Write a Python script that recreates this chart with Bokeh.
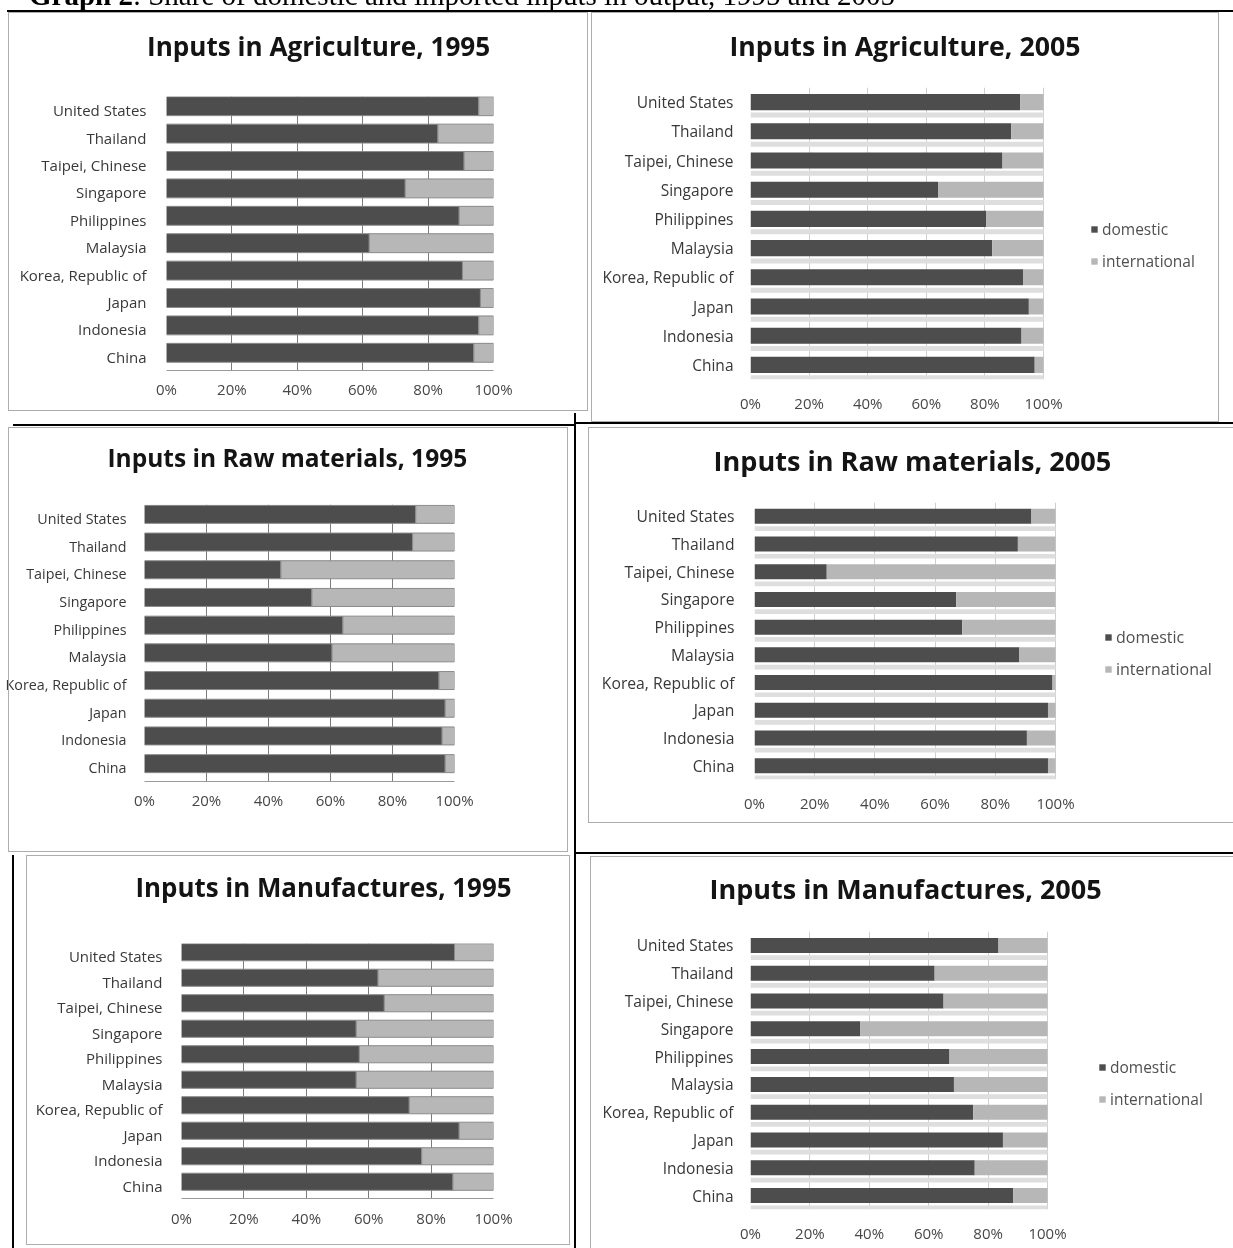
from bokeh.plotting import figure
from bokeh.models import (ColumnDataSource, FactorRange, Range1d, FixedTicker, Title,
                          Legend, LegendItem, Div)
from bokeh.transform import dodge
from bokeh.embed import file_html
from bokeh.resources import INLINE

# ---------------- data ----------------
countries = ["United States", "Thailand", "Taipei, Chinese", "Singapore", "Philippines",
             "Malaysia", "Korea, Republic of", "Japan", "Indonesia", "China"]
series = ["domestic", "international"]
x_ticks = [0, 20, 40, 60, 80, 100]
x_tick_labels = ["0%", "20%", "40%", "60%", "80%", "100%"]

agri_1995_domestic = [95.5, 83, 91, 73, 89.5, 62, 90.5, 96, 95.5, 94]
agri_1995_international = [4.5, 17, 9, 27, 10.5, 38, 9.5, 4, 4.5, 6]
agri_2005_domestic = [92, 89, 86, 64, 80.5, 82.5, 93, 95, 92.5, 97]
agri_2005_international = [8, 11, 14, 36, 19.5, 17.5, 7, 5, 7.5, 3]
raw_1995_domestic = [87.5, 86.5, 44, 54, 64, 60.5, 95, 97, 96, 97]
raw_1995_international = [12.5, 13.5, 56, 46, 36, 39.5, 5, 3, 4, 3]
raw_2005_domestic = [92, 87.5, 24, 67, 69, 88, 99, 97.5, 90.5, 97.5]
raw_2005_international = [8, 12.5, 76, 33, 31, 12, 1, 2.5, 9.5, 2.5]
man_1995_domestic = [87.5, 63, 65, 56, 57, 56, 73, 89, 77, 87]
man_1995_international = [12.5, 37, 35, 44, 43, 44, 27, 11, 23, 13]
man_2005_domestic = [83.5, 62, 65, 37, 67, 68.5, 75, 85, 75.5, 88.5]
man_2005_international = [16.5, 38, 35, 63, 33, 31.5, 25, 15, 24.5, 11.5]

heading_bold = "Graph 2"
heading_rest = ": Share of domestic and imported inputs in output, 1995 and 2005"

C_DOM = "#4d4d4d"
C_INT = "#b7b7b7"
FONT = "Open Sans"


def make_panel(s):
    w, h = s["size"]
    fl, ft, fw, fh = s["frame"]          # fw = width of the 0..100 % scale
    tl_off, gap, tfs = s["title"]
    old = s["style"] == 1995
    lift = s.get("lift", 0)              # 3-D look: bars sit a little above their labels
    ft_eff = ft + lift
    # the frame may reach further right than 100 % so that the legend sits inside it
    fw_frame = fw if old else (w - fl - 10)
    x_end = x_ticks[-1] * fw_frame / fw

    ttl = Title(text=s["text"], align="left", offset=tl_off, vertical_align="top",
                standoff=0, text_font=FONT, text_font_style="bold",
                text_font_size=f"{tfs}px", text_color="#141414")
    p = figure(width=w, height=h, x_range=Range1d(x_ticks[0], x_end),
               y_range=FactorRange(factors=countries[::-1]), title=ttl,
               output_backend="svg", toolbar_location=None,
               min_border_left=fl, min_border_top=ft_eff,
               min_border_right=w - fl - fw_frame, min_border_bottom=h - ft_eff - fh)
    # empty spacer between the title and the plot area
    p.add_layout(Title(text=" ", text_font_size="1px",
                       standoff=max(int(round(gap + lift - 3.4)), 0)), "above")
    p.background_fill_color = "white"
    p.border_fill_color = "white"
    p.outline_line_color = None

    band = fh / len(countries)
    ybar = dodge("country", lift / band, range=p.y_range) if lift else "country"

    src = ColumnDataSource(dict(country=countries, domestic=s["dom"], international=s["int"]))
    if not old:
        p.hbar(y=dodge("country", -s["band_off"], range=p.y_range), left=x_ticks[0],
               right=x_ticks[-1], height=s["band_h"], source=src,
               fill_color="#dedede", line_color=None)
    rs = p.hbar_stack(series, y=ybar, height=s["bar_h"], source=src,
                      fill_color=[C_DOM, C_INT],
                      line_color="#8a8a8a" if old else None, line_width=1)

    p.xaxis.ticker = FixedTicker(ticks=x_ticks)
    p.xaxis.major_label_overrides = dict(zip(x_ticks, x_tick_labels))
    p.xaxis.major_tick_line_color = None
    p.xaxis.minor_tick_line_color = None
    p.xaxis.major_tick_out = 0
    p.xaxis.major_tick_in = 0
    p.xaxis.minor_tick_out = 0
    p.xaxis.axis_line_color = "#9a9a9a" if old else None
    p.xaxis.major_label_standoff = int(s["xso"] - lift)
    p.xaxis.major_label_text_font = FONT
    p.xaxis.major_label_text_font_size = "15px"
    p.xaxis.major_label_text_color = "#474747"

    p.yaxis.major_tick_line_color = None
    p.yaxis.major_tick_out = 0
    p.yaxis.major_tick_in = 0
    p.yaxis.axis_line_color = None
    p.yaxis.major_label_standoff = int(s["yso"])
    p.yaxis.major_label_text_font = FONT
    p.yaxis.major_label_text_font_size = f"{s['yfs']}px"
    p.yaxis.major_label_text_color = "#383838"
    if s.get("overrides"):
        p.yaxis.major_label_overrides = s["overrides"]

    p.xgrid.ticker = FixedTicker(ticks=x_ticks)
    p.xgrid.grid_line_color = "#7c7c7c" if old else "#cfcfcf"
    p.ygrid.grid_line_color = None

    if s.get("legend"):
        vx, vy, lfs = s["legend"]
        leg = Legend(items=[LegendItem(label=series[0], renderers=[rs[0]]),
                            LegendItem(label=series[1], renderers=[rs[1]])],
                     location=(vx, vy), orientation="vertical",
                     background_fill_alpha=0, border_line_color=None,
                     padding=0, margin=0, spacing=10, label_height=20,
                     glyph_width=8, glyph_height=8, label_standoff=4,
                     label_text_font=FONT, label_text_font_size=f"{lfs}px",
                     label_text_color="#505050")
        p.add_layout(leg)

    # each chart is placed at its own spot on the page (independent of its neighbours)
    x0, y0 = s["pos"]
    p.styles = {"position": "fixed", "left": f"{x0}px", "top": f"{y0}px"}
    p.stylesheets = [f":host {{ position: fixed !important; left: {x0}px !important; "
                     f"top: {y0}px !important; margin: 0 !important; }}"]
    return p


specs = [
    dict(text="Inputs in Agriculture, 1995", dom=agri_1995_domestic, int=agri_1995_international,
         pos=(0, 12), size=(590, 413), frame=(166, 80, 327, 274), title=(-19.5, 27, 26.1),
         bar_h=0.69, style=1995, yso=20, xso=12, yfs=15, lift=4),
    dict(text="Inputs in Agriculture, 2005", dom=agri_2005_domestic, int=agri_2005_international,
         pos=(590, 12), size=(642, 413), frame=(160, 75, 293, 292), title=(-21, 22, 26.7),
         bar_h=0.55, band_off=0.44, band_h=0.17, legend=(340, 107, 15.5),
         style=2005, yso=17, xso=13, yfs=15.5),
    dict(text="Inputs in Raw materials, 1995", dom=raw_1995_domestic, int=raw_1995_international,
         pos=(0, 425), size=(576, 429), frame=(144, 75, 310, 277), title=(-37, 25, 24.5),
         bar_h=0.65, style=1995, yso=18, xso=12, yfs=14.3, lift=4,
         overrides={"Korea, Republic of": "Korea,..."}),
    dict(text="Inputs in Raw materials, 2005", dom=raw_2005_domestic, int=raw_2005_international,
         pos=(576, 425), size=(656, 429), frame=(178, 77, 301, 277), title=(-41, 22, 27.1),
         bar_h=0.54, band_off=0.44, band_h=0.17, legend=(350, 99, 16),
         style=2005, yso=20, xso=13, yfs=15.7),
    dict(text="Inputs in Manufactures, 1995", dom=man_1995_domestic, int=man_1995_international,
         pos=(0, 854), size=(580, 393), frame=(181, 85, 312, 255), title=(-46, 33, 25.9),
         bar_h=0.67, style=1995, yso=19, xso=13, yfs=15, lift=4),
    dict(text="Inputs in Manufactures, 2005", dom=man_2005_domestic, int=man_2005_international,
         pos=(580, 854), size=(652, 393), frame=(170, 77, 297, 278), title=(-41, 23, 27.0),
         bar_h=0.54, band_off=0.44, band_h=0.17, legend=(348, 99, 15.5),
         style=2005, yso=17, xso=13, yfs=15.5),
]

panels = [make_panel(s) for s in specs]


# ---- page furniture of the scanned document: heading, table rules, chart frames ----
def fixed(l, t, r, b, css):
    return (f'<div style="position:fixed;left:{l}px;top:{t}px;width:{r - l}px;'
            f'height:{b - t}px;box-sizing:border-box;pointer-events:none;z-index:50;{css}"></div>')


black = "background:#000"
gray = "border:1.5px solid #adadad"
rules = [
    (7, 10, 1240, 12, black),
    (13, 423.5, 576, 425.5, black),
    (576, 422, 1240, 424, black),
    (574, 413, 576, 854, black),
    (575, 852, 1240, 854, black),
    (12, 855, 14, 1260, black),
    (574, 854, 576, 1260, black),
    (8, 12, 588, 411, gray),
    (591, 12, 1219, 422, gray),
    (8, 427, 568, 852, gray),
    (588, 427, 1245, 823, gray),
    (26, 855, 570, 1245, gray),
    (590, 856, 1245, 1260, gray),
]
html = "".join(fixed(*r) for r in rules)
html += ('<div style="position:fixed;left:29px;top:-19px;white-space:nowrap;'
         "font-family:'Liberation Serif';font-size:29px;line-height:1;color:#000;z-index:40\">"
         f"<b>{heading_bold}</b>{heading_rest}</div>")
furniture = Div(text=html, width=1232, height=12, margin=(0, 0, 0, 0),
                styles={"overflow": "visible"})

open("out.html", "w").write(file_html([furniture] + panels, INLINE, title="Graph 2"))
